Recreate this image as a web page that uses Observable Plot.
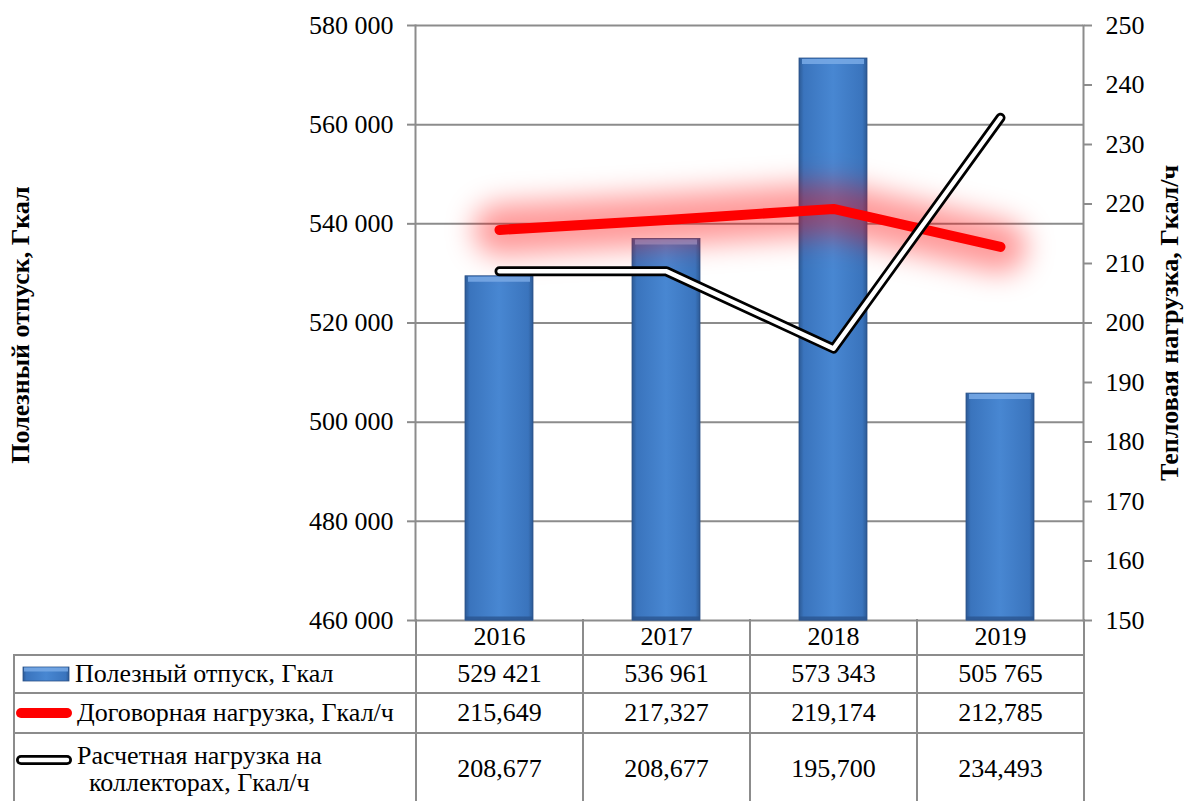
<!DOCTYPE html>
<html>
<head>
<meta charset="utf-8">
<script src="https://cdn.jsdelivr.net/npm/d3@7"></script>
<script src="https://cdn.jsdelivr.net/npm/@observablehq/plot@0.6"></script>
<style>
  html, body { margin: 0; padding: 0; background: #fff; }
  #wrap { position: relative; width: 1186px; height: 801px; overflow: hidden; font-family: "Liberation Serif", "Times New Roman", serif; color: #000; }
  #chart { position: absolute; left: 0; top: 0; }
  .ytitle { position: absolute; font-weight: bold; font-size: 26px; white-space: nowrap; transform: translate(-50%, -50%) rotate(-90deg); }
  table.dt { position: absolute; left: 13px; top: 619px; border-collapse: collapse; table-layout: fixed; font-size: 26px; }
  table.dt td { border: 2px solid #8c8c8c; text-align: center; vertical-align: middle; padding: 0; line-height: 1.05; }
  table.dt td.blank { border-top: none; border-left: none; border-bottom: 2px solid #8c8c8c; }
  .lab { display: flex; align-items: center; }
  .lab svg { flex: none; }
  .lab span { display: inline-block; text-align: center; margin-left: 4px; white-space: nowrap; }
</style>
</head>
<body>
<div id="wrap">
  <div id="chart"></div>
  <div class="ytitle" id="ltitle" style="left:21px; top:325px;"></div>
  <div class="ytitle" id="rtitle" style="left:1170px; top:323px;"></div>
</div>
<script>
// ---- data ----
const years = ["2016", "2017", "2018", "2019"];
const otpusk = [529421, 536961, 573343, 505765];          // Полезный отпуск, Гкал
const dogovor = [215.649, 217.327, 219.174, 212.785];     // Договорная нагрузка, Гкал/ч
const raschet = [208.677, 208.677, 195.700, 234.493];     // Расчетная нагрузка на коллекторах, Гкал/ч
const leftTicks = [460000, 480000, 500000, 520000, 540000, 560000, 580000];
const rightTicks = [150, 160, 170, 180, 190, 200, 210, 220, 230, 240, 250];
const seriesNames = ["Полезный отпуск, Гкал", "Договорная нагрузка, Гкал/ч", "Расчетная нагрузка на коллекторах, Гкал/ч"];
const leftTitle = "Полезный отпуск, Гкал";
const rightTitle = "Тепловая нагрузка, Гкал/ч";

// ---- helpers ----
const L0 = leftTicks[0], L1 = leftTicks[leftTicks.length - 1];
const R0 = rightTicks[0], R1 = rightTicks[rightTicks.length - 1];
const toLeft = v => L0 + (v - R0) * (L1 - L0) / (R1 - R0);
const fromLeft = v => R0 + (v - L0) * (R1 - R0) / (L1 - L0);
const ru = d3.formatLocale({decimal: ",", thousands: " ", grouping: [3], currency: ["", ""]});
const fmtInt = ru.format(",d");
const fmtDec = ru.format(".3f");

const rows = years.map((y, i) => ({year: y, otpusk: otpusk[i], dogovor: toLeft(dogovor[i]), raschet: toLeft(raschet[i])}));

const grid = "#8c8c8c";

const defs = () => {
  const svg = d3.create("svg:defs");
  const g = svg.append("linearGradient").attr("id", "barGrad").attr("x1", 0).attr("x2", 1).attr("y1", 0).attr("y2", 0);
  [[0, "#2c5a95"], [0.07, "#3a74bd"], [0.5, "#4887d2"], [0.93, "#3a74bd"], [1, "#2c5a95"]]
    .forEach(([o, c]) => g.append("stop").attr("offset", o).attr("stop-color", c));
  const f = svg.append("filter").attr("id", "glow").attr("x", "-30%").attr("y", "-300%").attr("width", "160%").attr("height", "700%");
  f.append("feGaussianBlur").attr("stdDeviation", 14);
  return svg.node();
};

const plot = Plot.plot({
  width: 1186,
  height: 640,
  marginLeft: 415,
  marginRight: 103,
  marginTop: 25,
  marginBottom: 20,
  style: {fontFamily: "'Liberation Serif', 'Times New Roman', serif", fontSize: "26px", color: "#000", background: "transparent", overflow: "visible"},
  x: {type: "band", domain: years, paddingInner: 0.593, paddingOuter: 0.2965, axis: null},
  y: {domain: [L0, L1], axis: null},
  marks: [
    defs,
    Plot.gridY(leftTicks, {stroke: grid, strokeOpacity: 1, strokeWidth: 2}),
    Plot.axisY(leftTicks, {anchor: "left", tickSize: 8, tickPadding: 14, tickFormat: fmtInt, stroke: grid, strokeWidth: 2, fill: "#000", fontSize: 26, label: null}),
    Plot.axisY(rightTicks.map(toLeft), {anchor: "right", tickSize: 8, tickPadding: 14, tickFormat: d => String(Math.round(fromLeft(d))), stroke: grid, strokeWidth: 2, fill: "#000", fontSize: 26, label: null}),
    Plot.frame({anchor: "left", stroke: grid, strokeWidth: 2}),
    Plot.frame({anchor: "right", stroke: grid, strokeWidth: 2}),
    Plot.barY(rows, {x: "year", y1: L0, y2: "otpusk", fill: "url(#barGrad)", stroke: "#2b5287", strokeWidth: 0.8}),
    Plot.tickY(rows, {x: "year", y: "otpusk", stroke: "#79aae6", strokeWidth: 5, dy: 3, strokeOpacity: 0.85, inset: 3}),
    Plot.tickY(rows, {x: "year", y: L0, stroke: "#2a5590", strokeWidth: 4, dy: -2, strokeOpacity: 0.8}),
    Plot.line(rows, {x: "year", y: "dogovor", stroke: "#ff0001", strokeWidth: 52, strokeOpacity: 0.4, strokeLinejoin: "round", strokeLinecap: "round"}),
    Plot.line(rows, {x: "year", y: "dogovor", stroke: "#ff0000", strokeWidth: 10, strokeLinejoin: "round", strokeLinecap: "round"}),
    Plot.line(rows, {x: "year", y: "raschet", stroke: "#000", strokeWidth: 10, strokeLinejoin: "round", strokeLinecap: "round"}),
    Plot.line(rows, {x: "year", y: "raschet", stroke: "#fff", strokeWidth: 4.5, strokeLinejoin: "round", strokeLinecap: "round"})
  ]
});
d3.select(plot).selectAll('[stroke="#ff0001"]').attr("filter", "url(#glow)");
document.getElementById("chart").appendChild(plot);

document.getElementById("ltitle").textContent = leftTitle;
document.getElementById("rtitle").textContent = rightTitle;

// ---- data table ----
const keys = [
  `<svg width="56" height="20"><rect x="8" y="3" width="46" height="14" fill="url(#barGrad)" stroke="#2b5287" stroke-width="0.8"/><rect x="9" y="3.5" width="44" height="4" fill="#79aae6" opacity="0.85"/></svg>`,
  `<svg width="58" height="20"><line x1="6" y1="10" x2="52" y2="10" stroke="#f00" stroke-width="10" stroke-linecap="round"/></svg>`,
  `<svg width="58" height="20"><line x1="6" y1="10" x2="52" y2="10" stroke="#000" stroke-width="10" stroke-linecap="round"/><line x1="6" y1="10" x2="52" y2="10" stroke="#fff" stroke-width="4.5" stroke-linecap="round"/></svg>`
];
const values = [otpusk.map(fmtInt), dogovor.map(fmtDec), raschet.map(fmtDec)];
const heights = [36, 38, 40, 72];
let html = `<table class="dt"><colgroup><col style="width:402px">${years.map(() => '<col style="width:167px">').join("")}</colgroup>`;
html += `<tr style="height:${heights[0]}px"><td class="blank"></td>${years.map(y => `<td style="border-top:none">${y}</td>`).join("")}</tr>`;
seriesNames.forEach((name, i) => {
  const label = i === 2 ? "Расчетная нагрузка на<br>коллекторах, Гкал/ч" : name;
  const keyHtml = i === 2 ? `<div style="align-self:flex-start;margin-top:6px">${keys[i]}</div>` : keys[i];
  html += `<tr style="height:${heights[i + 1]}px"><td><div class="lab">${keyHtml}<span>${label}</span></div></td>${values[i].map(v => `<td>${v}</td>`).join("")}</tr>`;
});
html += `</table>`;
document.getElementById("wrap").insertAdjacentHTML("beforeend", html);
</script>
</body>
</html>
